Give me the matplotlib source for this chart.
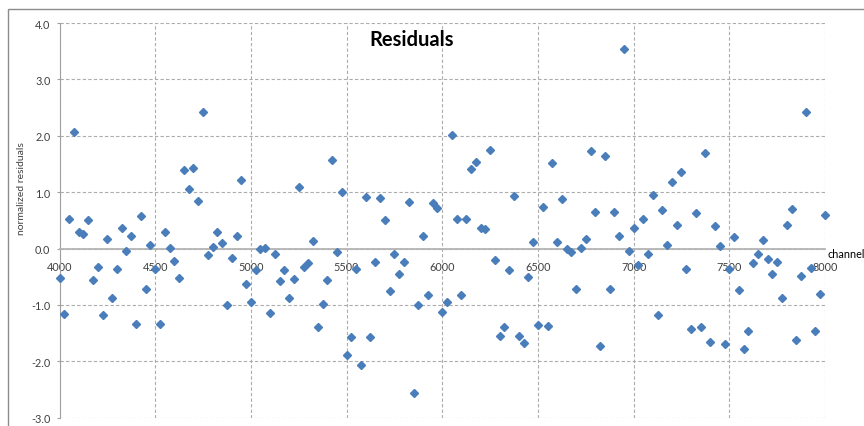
import matplotlib.pyplot as plt
from matplotlib.patches import Rectangle

# residuals per channel
channel = [
    4000, 4025, 4050, 4075, 4100, 4125, 4150, 4175, 4200, 4225,
    4250, 4275, 4300, 4325, 4350, 4375, 4400, 4425, 4450, 4475,
    4500, 4525, 4550, 4575, 4600, 4625, 4650, 4675, 4700, 4725,
    4750, 4775, 4800, 4825, 4850, 4875, 4900, 4925, 4950, 4975,
    5000, 5025, 5050, 5075, 5100, 5125, 5150, 5175, 5200, 5225,
    5250, 5275, 5300, 5325, 5350, 5375, 5400, 5425, 5450, 5475,
    5500, 5525, 5550, 5575, 5600, 5625, 5650, 5675, 5700, 5725,
    5750, 5775, 5800, 5825, 5850, 5875, 5900, 5925, 5950, 5975,
    6000, 6025, 6050, 6075, 6100, 6125, 6150, 6175, 6200, 6225,
    6250, 6275, 6300, 6325, 6350, 6375, 6400, 6425, 6450, 6475,
    6500, 6525, 6550, 6575, 6600, 6625, 6650, 6675, 6700, 6725,
    6750, 6775, 6800, 6825, 6850, 6875, 6900, 6925, 6950, 6975,
    7000, 7025, 7050, 7075, 7100, 7125, 7150, 7175, 7200, 7225,
    7250, 7275, 7300, 7325, 7350, 7375, 7400, 7425, 7450, 7475,
    7500, 7525, 7550, 7575, 7600, 7625, 7650, 7675, 7700, 7725,
    7750, 7775, 7800, 7825, 7850, 7875, 7900, 7925, 7950, 7975,
    8000,
]
residual = [
    -0.53, -1.16, 0.53, 2.06, 0.29, 0.25, 0.50, -0.56, -0.33, -1.18,
    0.17, -0.88, -0.36, 0.36, -0.05, 0.22, -1.33, 0.58, -0.72, 0.07,
    -0.36, -1.34, 0.30, 0.01, -0.22, -0.53, 1.39, 1.05, 1.43, 0.84,
    2.43, -0.12, 0.03, 0.30, 0.09, -1.00, -0.17, 0.22, 1.21, -0.62,
    -0.95, -0.38, -0.01, 0.01, -1.14, -0.10, -0.58, -0.38, -0.87, -0.54,
    1.10, -0.32, -0.26, 0.14, -1.40, -0.98, -0.55, 1.57, -0.06, 1.00,
    -1.88, -1.57, -0.36, -2.06, 0.92, -1.57, -0.23, 0.90, 0.50, -0.75,
    -0.09, -0.46, -0.23, 0.82, -2.56, -1.00, 0.22, -0.82, 0.81, 0.72,
    -1.13, -0.94, 2.01, 0.52, -0.82, 0.53, 1.41, 1.54, 0.36, 0.35,
    1.75, -0.20, -1.55, -1.40, -0.38, 0.94, -1.55, -1.67, -0.51, 0.11,
    -1.36, 0.74, -1.37, 1.51, 0.11, 0.88, 0.00, -0.07, -0.71, 0.01,
    0.17, 1.73, 0.64, -1.73, 1.64, -0.71, 0.64, 0.22, 3.54, -0.04,
    0.37, -0.29, 0.52, -0.10, 0.95, -1.18, 0.68, 0.06, 1.18, 0.42,
    1.36, -0.37, -1.43, 0.63, -1.40, 1.70, -1.65, 0.40, 0.04, -1.70,
    -0.36, 0.20, -0.74, -1.78, -1.47, -0.26, -0.10, 0.16, -0.19, -0.45,
    -0.23, -0.87, 0.42, 0.71, -1.63, -0.48, 2.43, -0.35, -1.47, -0.81,
    0.59,
]
x_ticks = [4000, 4500, 5000, 5500, 6000, 6500, 7000, 7500, 8000]
y_ticks = [-3.0, -2.0, -1.0, 0.0, 1.0, 2.0, 3.0, 4.0]

plt.rcParams['font.family'] = ['Lato', 'DejaVu Sans']

W, H = 864, 427
fig = plt.figure(figsize=(W / 100, H / 100), dpi=100)

# chart area border (runs off the right/bottom edge like the screenshot)
fig.patches.append(Rectangle((8 / W, -0.2), 1.2, 1.2 - 10 / H,
                             transform=fig.transFigure, fill=False,
                             edgecolor='#8c8c8c', linewidth=1.0))

ax = fig.add_axes([59.5 / W, 1 - 418.7 / H, (825 - 59.5) / W, (418.7 - 24) / H])
ax.set_xlim(4000, 8000)
ax.set_ylim(-3.0, 4.0)

grid_c = '#acacac'
ax.set_xticks(x_ticks)
ax.set_yticks(y_ticks)
ax.grid(True, color=grid_c, linestyle=(0, (3, 2)), linewidth=0.8)
ax.set_axisbelow(True)

for side in ['top', 'right']:
    ax.spines[side].set_visible(False)
ax.spines['left'].set_color('#a0a0a0')
ax.spines['bottom'].set_color('#b4b4b4')
ax.spines['bottom'].set_linewidth(1.3)
ax.spines['bottom'].set_position(('data', 0))

ax.set_yticklabels(['%.1f' % v for v in y_ticks])
ax.set_xticklabels([str(v) for v in x_ticks])
ax.tick_params(axis='y', length=2.5, width=0.8, color='#a0a0a0', pad=4,
               labelsize=7.8, labelcolor='#404040')
ax.tick_params(axis='x', length=0, pad=9, labelsize=7.8, labelcolor='#404040')

ax.plot(channel, residual, linestyle='none', marker='D', markersize=3.7,
        color='#4a7ebb', markeredgecolor='#4a7ebb', clip_on=False, zorder=3)

fig.text(412 / W, 1 - 40 / H, 'Residuals', ha='center', va='center',
         fontsize=14.5, fontweight='bold', color='black')
fig.text(22 / W, 1 - 189 / H, 'normalized residuals', rotation=90,
         ha='center', va='center', fontsize=7.5, color='#404040')
fig.text(827 / W, 1 - 254 / H, 'channel', ha='left', va='center',
         fontsize=7.8, color='black')

fig.savefig('out.png', dpi=100)
